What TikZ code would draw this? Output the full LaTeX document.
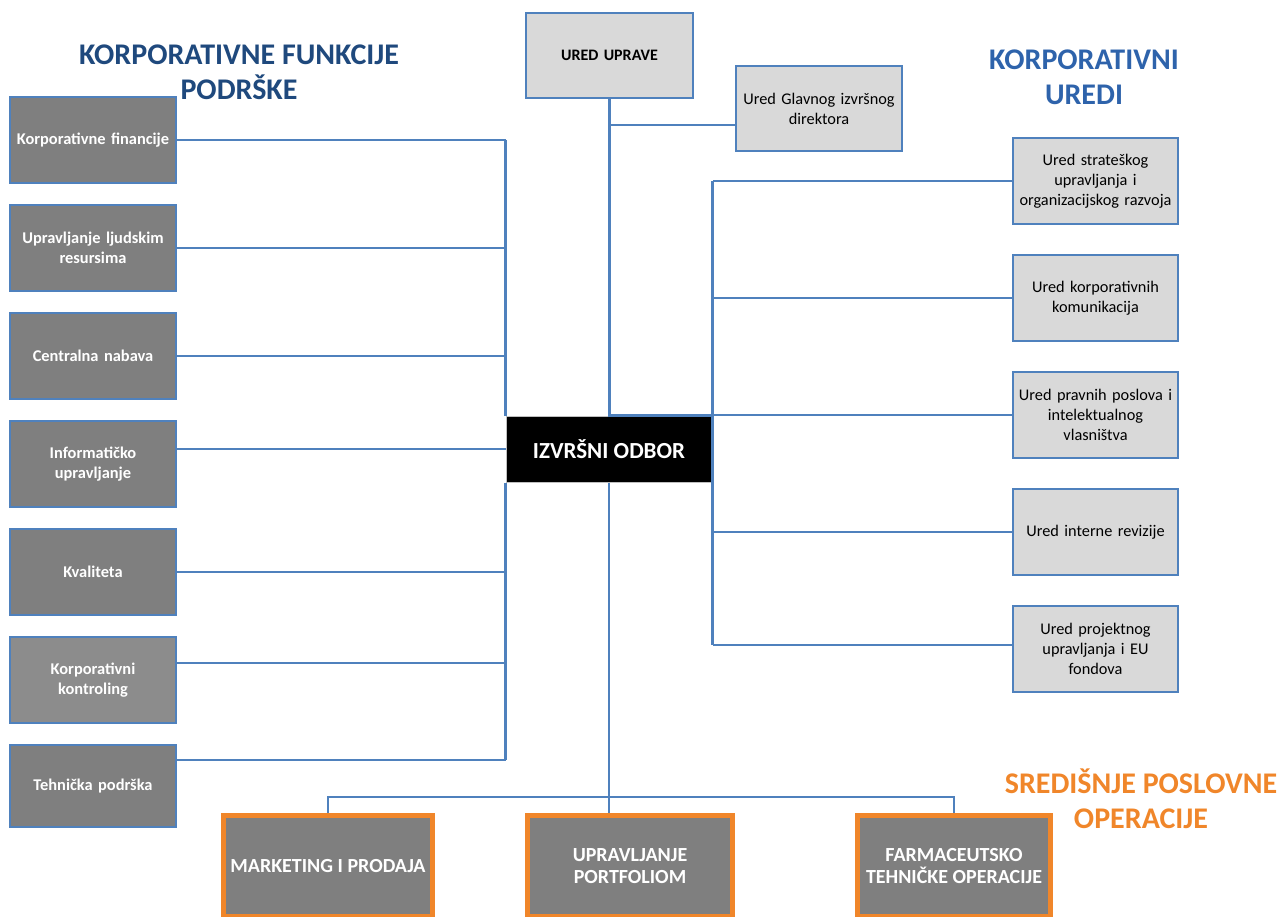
\documentclass[tikz,border=0pt]{standalone}
\usepackage{fontspec}
\setmainfont{Carlito}
\usepackage{tikz}
\usetikzlibrary{positioning}

\definecolor{boxblue}{RGB}{79,129,189}
\definecolor{boxdark}{RGB}{127,127,127}
\definecolor{boxmid}{RGB}{140,140,140}
\definecolor{boxlight}{RGB}{217,217,217}
\definecolor{titleblue}{RGB}{31,73,125}
\definecolor{officeblue}{RGB}{46,99,171}
\definecolor{opsorange}{RGB}{240,134,42}

\begin{document}
\begin{tikzpicture}[
        x=1pt, y=1pt,
        leftblock/.style={rectangle, draw=boxblue, line width=2.5pt, fill=boxdark, minimum width=166pt, minimum height=86pt, text width=162pt, align=center, inner sep=0pt, text=white, font=\fontsize{16.4}{20}\selectfont\bfseries},
        rightblock/.style={rectangle, draw=boxblue, line width=2.5pt, fill=boxlight, minimum width=165pt, minimum height=86pt, text width=162pt, align=center, inner sep=0pt, font=\fontsize{16.3}{20}\selectfont},
        opblock/.style={rectangle, draw=opsorange, line width=5pt, fill=boxdark, minimum height=101pt, align=center, inner sep=0pt, text=white, font=\fontsize{20}{22}\selectfont\bfseries},
        link/.style={draw=boxblue, line width=2.5pt},
        title/.style={align=center, font=\fontsize{30}{35}\selectfont\bfseries}
    ]
    \useasboundingbox (0,0) rectangle (1279,-917);

    \node[title, text=titleblue] (tleft) at (239,-72) {KORPORATIVNE FUNKCIJE\\PODRŠKE};
    \node[title, text=officeblue] (tright) at (1084,-77) {KORPORATIVNI\\UREDI};
    \node[title, text=opsorange] (tops) at (1141,-799) {SREDIŠNJE POSLOVNE\\OPERACIJE};

    \node[leftblock] (kfin) at (93,-140) {Korporativne financije};
    \node[leftblock, below of=kfin, node distance=108pt] (ljudi) {Upravljanje ljudskim\\resursima};
    \node[leftblock, below of=ljudi, node distance=108pt] (nabava) {Centralna nabava};
    \node[leftblock, below of=nabava, node distance=108pt] (info) {Informatičko\\upravljanje};
    \node[leftblock, below of=info, node distance=108pt] (kval) {Kvaliteta};
    \node[leftblock, below of=kval, node distance=108pt, fill=boxmid] (kontr) {Korporativni\\kontroling};
    \node[leftblock, below of=kontr, node distance=106pt, minimum height=82pt] (teh) {Tehnička podrška};

    \node[rightblock, minimum width=167pt, minimum height=85pt, font=\fontsize{16}{20}\selectfont\bfseries] (uprava) at (609.5,-55.5) {URED UPRAVE};
    \node[rightblock, minimum width=166pt, minimum height=85pt] (ceo) at (819,-108.5) {Ured Glavnog izvršnog\\direktora};

    \node[rightblock] (strat) at (1095.5,-181) {Ured strateškog\\upravljanja i\\organizacijskog razvoja};
    \node[rightblock, below of=strat, node distance=117pt] (komun) {Ured korporativnih\\komunikacija};
    \node[rightblock, below of=komun, node distance=117pt] (pravo) {Ured pravnih poslova i\\intelektualnog\\vlasništva};
    \node[rightblock, below of=pravo, node distance=117pt] (revizija) {Ured interne revizije};
    \node[rightblock, below of=revizija, node distance=117pt] (projekt) {Ured projektnog\\upravljanja i EU\\fondova};

    \node[rectangle, draw=gray!50, line width=1pt, fill=black, text=white, minimum width=206pt, minimum height=66pt, font=\fontsize{23}{25}\selectfont\bfseries] (odbor) at (609,-449) {IZVRŠNI ODBOR};

    \node[opblock, minimum width=209pt] (mark) at (328,-866) {MARKETING I PRODAJA};
    \node[opblock, minimum width=205pt] (portf) at (630,-866) {UPRAVLJANJE\\PORTFOLIOM};
    \node[opblock, minimum width=193pt] (farm) at (954,-866) {FARMACEUTSKO\\TEHNIČKE OPERACIJE};

    \coordinate (bus) at (609,-797);

    \draw[link] (kfin.east) -- (kfin.east -| odbor.west);
    \draw[link] (ljudi.east) -- (ljudi.east -| odbor.west);
    \draw[link] (nabava.east) -- (nabava.east -| odbor.west);
    \draw[link] ([yshift=15pt]info.east) -- ([yshift=15pt]info.east -| odbor.west);
    \draw[link] (kval.east) -- (kval.east -| odbor.west);
    \draw[link] ([yshift=17pt]kontr.east) -- ([yshift=17pt]kontr.east -| odbor.west);
    \draw[link] ([yshift=26pt]teh.east) -- ([yshift=26pt]teh.east -| odbor.west);
    \draw[link] (kfin.east -| odbor.west) -- (odbor.north west);
    \draw[link] (odbor.south west) -- ([yshift=26pt]teh.east -| odbor.west);

    \draw[link] (uprava.south) |- (odbor.north east);
    \draw[link] ([yshift=-16.5pt]ceo.west) -- ([yshift=-16.5pt]ceo.west -| uprava.south);

    \draw[link] (strat.west) -- (strat.west -| odbor.east);
    \draw[link] (komun.west) -- (komun.west -| odbor.east);
    \draw[link] (pravo.west) -- (pravo.west -| odbor.east);
    \draw[link] (revizija.west) -- (revizija.west -| odbor.east);
    \draw[link] ([yshift=4pt]projekt.west) -- ([yshift=4pt]projekt.west -| odbor.east);
    \draw[link] (strat.west -| odbor.east) -- ([yshift=4pt]projekt.west -| odbor.east);

    \draw[link, line width=2pt] (odbor.south) -- (bus) -- (bus |- portf.north);
    \draw[link, line width=2pt] (mark.north) -- (mark.north |- bus) -- (farm.north |- bus) -- (farm.north);

\end{tikzpicture}
\end{document}
